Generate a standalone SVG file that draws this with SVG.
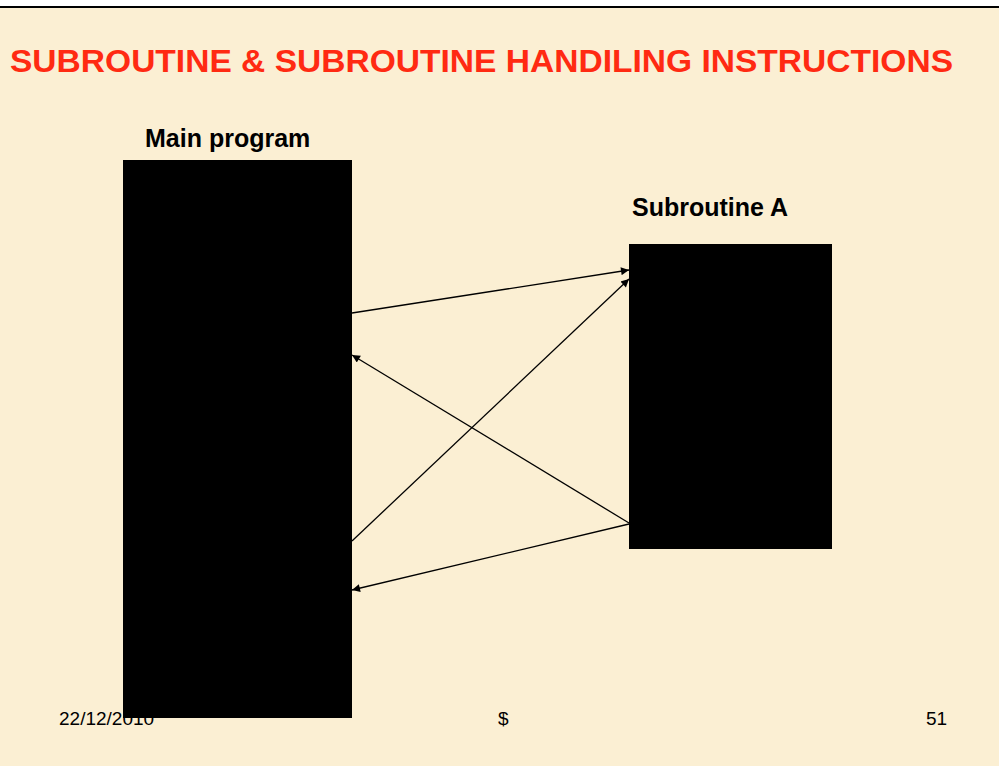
<svg xmlns="http://www.w3.org/2000/svg" width="999" height="766" viewBox="0 0 999 766">
<defs>
<style>
.lbl{font-family:"Liberation Sans",Arial,sans-serif;font-weight:bold;font-size:25px;fill:#000}
.ftr{font-family:"Liberation Sans",Arial,sans-serif;font-size:19px;fill:#000}
.box{fill:#000}
.conn{stroke:#000;stroke-width:1.3;fill:none;marker-end:url(#ah)}
</style>
<marker id="ah" viewBox="0 0 10 10" refX="10" refY="5" markerWidth="10" markerHeight="8" markerUnits="userSpaceOnUse" orient="auto">
<path d="M0,0 L10,5 L0,10 z" fill="#000"/>
</marker>
</defs>
<rect x="0" y="0" width="999" height="766" fill="#FBEFD3"/>
<rect x="0" y="0" width="999" height="6" fill="#fff"/>
<rect x="0" y="6" width="999" height="2" fill="#000"/>
<text x="10" y="72" font-family="'Liberation Sans',Arial,sans-serif" font-weight="bold" font-size="32" fill="#FF2A12" textLength="943" lengthAdjust="spacingAndGlyphs">SUBROUTINE &amp; SUBROUTINE HANDILING INSTRUCTIONS</text>
<g id="footer">
<text class="ftr" x="59" y="725">22/12/2010</text>
<text class="ftr" x="498" y="725">$</text>
<text class="ftr" x="926" y="725">51</text>
</g>
<g id="main">
<text class="lbl" x="145" y="147">Main program</text>
<rect class="box" x="123" y="160" width="229" height="558"/>
</g>
<g id="subA">
<text class="lbl" x="632" y="216">Subroutine A</text>
<rect class="box" x="629" y="244" width="203" height="305"/>
</g>
<g id="connectors">
<line class="conn" x1="352" y1="313" x2="629" y2="270"/>
<line class="conn" x1="352" y1="541" x2="629" y2="279"/>
<line class="conn" x1="629" y1="523" x2="352" y2="355"/>
<line class="conn" x1="629" y1="524" x2="352" y2="590"/>
</g>
</svg>
